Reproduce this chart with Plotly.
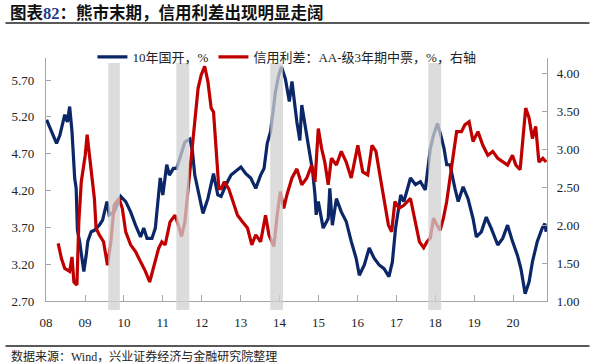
import plotly.graph_objects as go

# ---------------- data ----------------
cdb_dates = [
    "2008-01-07", "2008-02-22", "2008-04-09", "2008-05-10", "2008-06-25", "2008-07-20",
    "2008-08-10", "2008-09-01", "2008-09-26", "2008-10-10", "2008-10-22", "2008-11-11",
    "2008-12-02", "2008-12-21", "2009-01-12", "2009-01-27", "2009-02-28", "2009-03-30",
    "2009-05-15", "2009-06-15", "2009-07-26", "2009-08-16", "2009-10-01", "2009-12-02",
    "2010-01-18", "2010-03-05", "2010-04-20", "2010-06-06", "2010-07-06", "2010-08-06",
    "2010-09-21", "2010-10-23", "2010-11-22", "2010-12-08", "2011-01-01", "2011-02-07",
    "2011-03-04", "2011-04-10", "2011-05-11", "2011-06-11", "2011-07-27", "2011-09-12",
    "2011-10-06", "2011-10-28", "2011-12-07", "2012-01-13", "2012-02-28", "2012-04-21",
    "2012-05-31", "2012-07-01", "2012-08-16", "2012-10-02", "2013-01-03", "2013-02-18",
    "2013-04-05", "2013-05-22", "2013-07-07", "2013-08-08", "2013-09-07", "2013-10-08",
    "2013-11-23", "2013-12-24", "2014-01-18", "2014-02-24", "2014-04-02", "2014-04-27",
    "2014-06-12", "2014-07-10", "2014-07-28", "2014-08-28", "2014-10-13", "2014-11-07",
    "2014-11-29", "2014-12-10", "2014-12-30", "2015-02-14", "2015-04-02", "2015-04-17",
    "2015-05-11", "2015-06-18", "2015-08-03", "2015-09-18", "2015-11-04", "2015-12-20",
    "2016-01-19", "2016-03-06", "2016-04-21", "2016-06-06", "2016-07-23", "2016-09-07",
    "2016-10-23", "2016-11-24", "2016-12-24", "2017-02-10", "2017-03-12", "2017-05-13",
    "2017-06-29", "2017-08-14", "2017-09-29", "2017-11-15", "2017-12-15", "2018-01-21",
    "2018-02-22", "2018-03-24", "2018-04-18", "2018-05-19", "2018-07-04", "2018-08-04",
    "2018-09-19", "2018-11-04", "2018-12-21", "2019-01-21", "2019-03-09", "2019-04-24",
    "2019-06-09", "2019-08-10", "2019-09-25", "2019-11-10", "2019-12-26", "2020-02-11",
    "2020-03-14", "2020-04-23", "2020-05-30", "2020-06-30", "2020-08-15", "2020-09-30",
    "2020-10-25", "2020-11-06",
]
cdb_10y = [
    5.16, 5.00, 4.84, 4.95, 5.23, 5.13,
    5.34, 5.00, 4.37, 4.23, 3.66, 3.51,
    3.32, 3.10, 3.32, 3.51, 3.64, 3.66,
    3.73, 3.80, 4.05, 3.87, 3.91, 4.12,
    4.05, 3.91, 3.73, 3.57, 3.69, 3.55,
    3.55, 3.69, 4.14, 4.37, 4.14, 4.55,
    4.41, 4.50, 4.50, 4.64, 4.86, 4.90,
    4.73, 4.41, 4.14, 3.89, 4.09, 4.43,
    4.14, 4.12, 4.28, 4.41, 4.52, 4.43,
    4.37, 4.23, 4.41, 4.50, 4.84, 5.00,
    5.54, 5.77, 5.88, 5.72, 5.41, 5.68,
    5.13, 4.88, 5.36, 5.09, 4.68, 4.46,
    4.14, 3.87, 4.05, 3.69, 3.82, 4.23,
    3.73, 4.09, 3.91, 3.78, 3.51, 3.28,
    3.05, 3.19, 3.42, 3.28, 3.19, 3.14,
    3.03, 3.23, 3.69, 4.14, 4.05, 4.37,
    4.28, 4.32, 4.21, 4.77, 4.95, 5.11,
    4.95, 4.77, 4.55, 4.55, 4.23, 4.05,
    4.25, 4.09, 3.82, 3.57, 3.64, 3.84,
    3.69, 3.46, 3.55, 3.73, 3.51, 3.32,
    3.14, 2.80, 2.96, 3.23, 3.51, 3.69,
    3.75, 3.64,
]

spread_dates = [
    "2008-04-24", "2008-05-25", "2008-06-25", "2008-08-10", "2008-09-01", "2008-09-19",
    "2008-10-17", "2008-11-04", "2008-11-27", "2008-12-21", "2009-01-03", "2009-01-21",
    "2009-02-12", "2009-02-28", "2009-03-30", "2009-04-15", "2009-05-15", "2009-06-24",
    "2009-07-31", "2009-09-01", "2009-10-01", "2009-11-16", "2009-12-17", "2010-01-18",
    "2010-03-05", "2010-04-20", "2010-06-06", "2010-07-22", "2010-08-31", "2010-10-07",
    "2010-11-22", "2010-12-23", "2011-01-23", "2011-03-10", "2011-04-26", "2011-05-26",
    "2011-06-26", "2011-07-27", "2011-08-27", "2011-09-27", "2011-10-28", "2011-11-28",
    "2011-12-28", "2012-01-29", "2012-02-28", "2012-03-30", "2012-04-21", "2012-05-16",
    "2012-06-10", "2012-07-01", "2012-08-01", "2012-09-10", "2012-10-17", "2012-12-02",
    "2013-01-19", "2013-03-06", "2013-04-15", "2013-05-22", "2013-07-07", "2013-08-22",
    "2013-09-23", "2013-11-08", "2013-12-09", "2014-01-08", "2014-02-09", "2014-03-11",
    "2014-04-27", "2014-06-12", "2014-07-28", "2014-09-13", "2014-10-29", "2014-11-29",
    "2014-12-30", "2015-01-30", "2015-03-01", "2015-04-02", "2015-05-02", "2015-06-18",
    "2015-08-03", "2015-09-18", "2015-11-04", "2016-01-05", "2016-02-20", "2016-04-07",
    "2016-05-17", "2016-06-23", "2016-07-30", "2016-09-07", "2016-10-18", "2016-11-17",
    "2016-12-18", "2017-01-25", "2017-03-12", "2017-05-13", "2017-06-29", "2017-08-05",
    "2017-09-14", "2017-10-15", "2017-11-15", "2017-12-15", "2018-01-16", "2018-02-15",
    "2018-03-18", "2018-04-18", "2018-05-19", "2018-06-19", "2018-07-20", "2018-09-04",
    "2018-10-05", "2018-11-14", "2018-12-21", "2019-02-05", "2019-03-23", "2019-05-09",
    "2019-06-24", "2019-08-10", "2019-09-25", "2019-11-10", "2019-12-26", "2020-01-27",
    "2020-03-07", "2020-04-04", "2020-04-28", "2020-05-30", "2020-06-30", "2020-07-31",
    "2020-08-30", "2020-10-06", "2020-11-06",
]
credit_spread = [
    1.76, 1.56, 1.43, 1.39, 1.58, 1.25,
    1.21, 2.04, 2.57, 2.79, 2.92, 3.19,
    2.92, 2.66, 2.35, 1.96, 1.87, 1.78,
    1.47, 1.78, 2.26, 2.35, 2.22, 1.91,
    1.74, 1.65, 1.52, 1.39, 1.25, 1.43,
    1.69, 1.78, 1.74, 2.04, 2.13, 2.00,
    1.85, 2.04, 2.48, 3.01, 3.36, 3.80,
    3.98, 4.09, 3.89, 3.54, 3.49, 3.01,
    2.48, 2.48, 2.57, 2.48, 2.31, 2.13,
    2.04, 1.96, 1.74, 1.87, 1.78, 2.13,
    1.87, 1.72, 2.13, 2.44, 2.22, 2.40,
    2.62, 2.74, 2.53, 2.62, 2.79, 2.57,
    3.27, 3.01, 2.83, 2.53, 2.88, 2.79,
    2.97, 2.83, 2.62, 3.05, 2.70, 2.66,
    3.05, 2.97, 2.66, 2.35, 2.00, 1.91,
    2.31, 2.22, 2.26, 2.35, 2.04, 1.78,
    1.70, 1.78, 1.83, 2.09, 2.00, 1.93,
    2.09, 2.31, 2.62, 2.92, 3.23, 3.23,
    3.32, 3.36, 3.10, 3.23, 3.05, 2.92,
    2.97, 2.88, 2.83, 2.79, 2.92, 2.79,
    2.73, 3.23, 3.54, 3.41, 3.14, 3.30,
    2.83, 2.88, 2.83,
]

# shaded "bear market end" periods
band_starts = ["2009-08-07", "2011-05-08", "2013-10-05", "2017-10-27"]
band_ends = ["2009-11-24", "2011-09-06", "2014-02-02", "2018-02-25"]

year_ticks = [f"{y}-01-01" for y in range(2008, 2021)]
year_labels = [f"{y % 100:02d}" for y in range(2008, 2021)]
left_ticks = [2.70, 3.20, 3.70, 4.20, 4.70, 5.20, 5.70]
right_ticks = [1.00, 1.50, 2.00, 2.50, 3.00, 3.50, 4.00]

name_cdb = "10年国开，%"
name_spread = "信用利差：AA-级3年期中票，%，右轴"
title_text = "图表<span style='color:#1F3C88;font-family:Liberation Serif'>82</span>：熊市末期，信用利差出现明显走阔"
source_text = "数据来源：Wind，兴业证券经济与金融研究院整理"

BLUE = "#0B2767"
RED = "#C00000"
AXIS = "#A6A6A6"
SERIF = "Liberation Serif, Noto Sans CJK SC"
CJK = "Noto Sans CJK SC"

# ---------------- figure ----------------
W, H = 591, 364
ML, MR, MT, MB = 41, 43, 58, 63
PW, PH = W - ML - MR, H - MT - MB


def px_x(px):
    return (px - ML) / PW


def px_y(py):
    return (H - MB - py) / PH


fig = go.Figure()
fig.add_trace(go.Scatter(x=cdb_dates, y=cdb_10y, name=name_cdb, mode="lines",
                         line=dict(color=BLUE, width=3.2), yaxis="y"))
fig.add_trace(go.Scatter(x=spread_dates, y=credit_spread, name=name_spread, mode="lines",
                         line=dict(color=RED, width=3.2), yaxis="y2"))

shapes = []
for s, e in zip(band_starts, band_ends):
    shapes.append(dict(type="rect", xref="x", yref="paper", x0=s, x1=e,
                       y0=px_y(310), y1=px_y(63), fillcolor="#D0D0D0",
                       opacity=0.75, line=dict(width=0), layer="above"))
# title underline and footer line
shapes.append(dict(type="line", xref="paper", yref="paper", x0=px_x(0), x1=px_x(W),
                   y0=px_y(23), y1=px_y(23), line=dict(color="#222222", width=1.5)))
shapes.append(dict(type="line", xref="paper", yref="paper", x0=px_x(0), x1=px_x(W),
                   y0=px_y(346), y1=px_y(346), line=dict(color="#222222", width=1.5)))

annotations = [
    dict(text=title_text, xref="paper", yref="paper", x=px_x(3), y=px_y(12),
         xanchor="left", yanchor="middle", showarrow=False,
         font=dict(family=CJK, size=16.5, color="#111111", weight="bold")),
    dict(text=source_text, xref="paper", yref="paper", x=px_x(4), y=px_y(356),
         xanchor="left", yanchor="middle", showarrow=False,
         font=dict(family=SERIF, size=12, color="#222222")),
]

fig.update_layout(
    width=W, height=H,
    margin=dict(l=ML, r=MR, t=MT, b=MB, pad=0),
    paper_bgcolor="white", plot_bgcolor="white",
    showlegend=True,
    legend=dict(orientation="h", x=px_x(88), y=px_y(57), xanchor="left", yanchor="middle",
                bgcolor="rgba(0,0,0,0)", font=dict(family=SERIF, size=13, color="#222222"),
                itemwidth=30, tracegroupgap=0, traceorder="normal"),
    shapes=shapes,
    annotations=annotations,
    xaxis=dict(type="date", range=["2008-01-01", "2020-11-14"],
               tickmode="array", tickvals=year_ticks, ticktext=year_labels,
               ticks="inside", ticklen=6, tickcolor=AXIS, tickwidth=1,
               showline=True, linecolor=AXIS, linewidth=1.2, mirror=False,
               showgrid=False, zeroline=False, ticklabelstandoff=9,
               tickfont=dict(family=SERIF, size=13, color="#222222")),
    yaxis=dict(range=[2.7, 6.0], tickmode="array", tickvals=left_ticks,
               tickformat=".2f", ticks="inside", ticklen=5, tickcolor=AXIS,
               showline=True, linecolor=AXIS, linewidth=1.2, showgrid=False,
               zeroline=False, ticklabelstandoff=8,
               tickfont=dict(family=SERIF, size=13, color="#222222")),
    yaxis2=dict(range=[1.0, 4.2], tickmode="array", tickvals=right_ticks,
                tickformat=".2f", ticks="inside", ticklen=5, tickcolor=AXIS,
                showline=True, linecolor=AXIS, linewidth=1.2, showgrid=False,
                zeroline=False, overlaying="y", side="right", ticklabelstandoff=6,
                tickfont=dict(family=SERIF, size=13, color="#222222")),
)

fig.write_html("out.html", config={"displayModeBar": False},
               post_script="document.body.style.margin='0px';document.body.style.overflow='hidden';")
